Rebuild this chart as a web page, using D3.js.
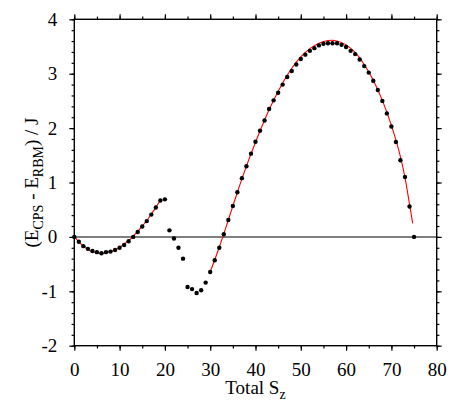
<!DOCTYPE html>
<html>
<head>
<meta charset="utf-8">
<script src="https://cdn.jsdelivr.net/npm/d3@7/dist/d3.min.js"></script>
<style>
  body { margin: 0; background: #fff; }
  svg { display: block; }
  text { font-family: "Liberation Serif", "DejaVu Serif", serif; fill: #000; }
</style>
</head>
<body>
<svg id="chart" width="463" height="403"></svg>
<script>
// dots: total Sz vs energy difference
var dotSz = [0,1,2,3,4,5,6,7,8,9,10,11,12,13,14,15,16,17,18,19,
  20,21,22,23,24,25,26,27,28,29,30,31,32,33,34,35,36,37,38,39,
  40,41,42,43,44,45,46,47,48,49,50,51,52,53,54,55,56,57,58,59,
  60,61,62,63,64,65,66,67,68,69,70,71,72,73,74,75];
var dotE = [0,-0.09,-0.17,-0.22,-0.26,-0.28,-0.30,-0.28,-0.27,-0.24,
  -0.20,-0.15,-0.08,0.0,0.09,0.19,0.29,0.41,0.54,0.67,
  0.69,0.12,-0.03,-0.20,-0.40,-0.92,-0.96,-1.03,-0.98,-0.84,
  -0.645,-0.43,-0.20,0.05,0.31,0.57,0.82,1.08,1.30,1.53,
  1.75,1.95,2.14,2.35,2.51,2.65,2.80,2.94,3.05,3.17,
  3.27,3.35,3.42,3.47,3.52,3.55,3.56,3.56,3.56,3.53,
  3.49,3.42,3.36,3.26,3.14,3.02,2.87,2.70,2.50,2.27,
  2.03,1.745,1.41,1.10,0.56,0.0];

// red fitted curves
var fit1Sz = [0,1,2,3,4,5,6,7,8,9,10,11,12,13,14,15,16,17,18,19];
var fit1E = [0,-0.09,-0.17,-0.23,-0.27,-0.29,-0.30,-0.29,-0.27,-0.24,
  -0.19,-0.13,-0.07,0.01,0.10,0.20,0.30,0.42,0.54,0.68];
var fit2Sz = [30,32,34,36,38,40,42,44,46,48,50,52,54,56,57,58,60,62,64,66,68,70,72,73,74,74.7];
var fit2E = [-0.645,-0.19,0.31,0.82,1.30,1.74,2.15,2.51,2.83,3.10,3.31,3.46,3.56,3.61,3.615,3.60,
  3.53,3.39,3.17,2.88,2.51,2.05,1.47,1.09,0.60,0.25];

var xTicks = [0,10,20,30,40,50,60,70,80];
var yTicks = [-2,-1,0,1,2,3,4];

var svg = d3.select("#chart");
var plotL = 74.3, plotR = 436.7, plotT = 19.3, plotB = 345.7;

var x = d3.scaleLinear().domain([0, 80]).range([plotL, plotR]);
var y = d3.scaleLinear().domain([-2, 4]).range([plotB, plotT]);

var minorX = d3.range(0, 81, 5);
var minorY = d3.range(-2, 4.001, 0.2);

// zero line
svg.append("line")
  .attr("x1", plotL).attr("x2", plotR)
  .attr("y1", y(0)).attr("y2", y(0))
  .attr("stroke", "#555").attr("stroke-width", 1.5);

// axes
function styleAxis(g) {
  g.select(".domain").remove();
  g.selectAll(".tick line").attr("stroke", "#000").attr("stroke-width", 1.2);
  g.selectAll("text").style("font-size", "19px").attr("fill", "#000");
}

svg.append("g").attr("transform", "translate(0," + plotB + ")")
  .call(d3.axisBottom(x).tickValues(minorX).tickFormat("").tickSize(2.7)).call(styleAxis);
svg.append("g").attr("transform", "translate(0," + plotB + ")")
  .call(d3.axisBottom(x).tickValues(xTicks).tickFormat(d3.format("d")).tickSize(5).tickPadding(11.5)).call(styleAxis);
svg.append("g").attr("transform", "translate(0," + plotT + ")")
  .call(d3.axisTop(x).tickValues(minorX).tickFormat("").tickSize(2.7)).call(styleAxis);
svg.append("g").attr("transform", "translate(0," + plotT + ")")
  .call(d3.axisTop(x).tickValues(xTicks).tickFormat("").tickSize(5)).call(styleAxis);

svg.append("g").attr("transform", "translate(" + plotL + ",0)")
  .call(d3.axisLeft(y).tickValues(minorY).tickFormat("").tickSize(2.7)).call(styleAxis);
svg.append("g").attr("transform", "translate(" + plotL + ",0)")
  .call(d3.axisLeft(y).tickValues(yTicks).tickFormat(function(d) { return d < 0 ? "-" + (-d) : d; }).tickSize(5).tickPadding(12)).call(styleAxis);
svg.append("g").attr("transform", "translate(" + plotR + ",0)")
  .call(d3.axisRight(y).tickValues(minorY).tickFormat("").tickSize(2.7)).call(styleAxis);
svg.append("g").attr("transform", "translate(" + plotR + ",0)")
  .call(d3.axisRight(y).tickValues(yTicks).tickFormat("").tickSize(5)).call(styleAxis);

// frame
svg.append("rect")
  .attr("x", plotL).attr("y", plotT)
  .attr("width", plotR - plotL).attr("height", plotB - plotT)
  .attr("fill", "none").attr("stroke", "#000").attr("stroke-width", 1.4);

// fitted curves
var line = d3.line()
  .x(function(d) { return x(d[0]); })
  .y(function(d) { return y(d[1]); })
  .curve(d3.curveMonotoneX);

[[fit1Sz, fit1E], [fit2Sz, fit2E]].forEach(function(f) {
  svg.append("path")
    .datum(d3.zip(f[0], f[1]))
    .attr("d", line)
    .attr("fill", "none")
    .attr("stroke", "#f00")
    .attr("stroke-width", 1.1);
});

// dots
svg.selectAll("circle.dot")
  .data(d3.zip(dotSz, dotE))
  .enter().append("circle")
  .attr("class", "dot")
  .attr("cx", function(d) { return x(d[0]); })
  .attr("cy", function(d) { return y(d[1]); })
  .attr("r", 2.2)
  .attr("fill", "#000");

// axis titles
var xt = svg.append("text")
  .attr("x", (plotL + plotR) / 2).attr("y", 394)
  .attr("text-anchor", "middle")
  .style("font-size", "19px");
xt.append("tspan").text("Total S");
xt.append("tspan").attr("dy", 5).style("font-size", "14px").text("z");

var yt = svg.append("text")
  .attr("transform", "translate(38," + ((plotT + plotB) / 2) + ") rotate(-90)")
  .attr("text-anchor", "middle")
  .style("font-size", "19px");
yt.append("tspan").text("(E");
yt.append("tspan").attr("dy", 5).style("font-size", "14px").text("CPS");
yt.append("tspan").attr("dy", -5).text(" - E");
yt.append("tspan").attr("dy", 5).style("font-size", "14px").text("RBM");
yt.append("tspan").attr("dy", -5).text(") / J");
</script>
</body>
</html>
